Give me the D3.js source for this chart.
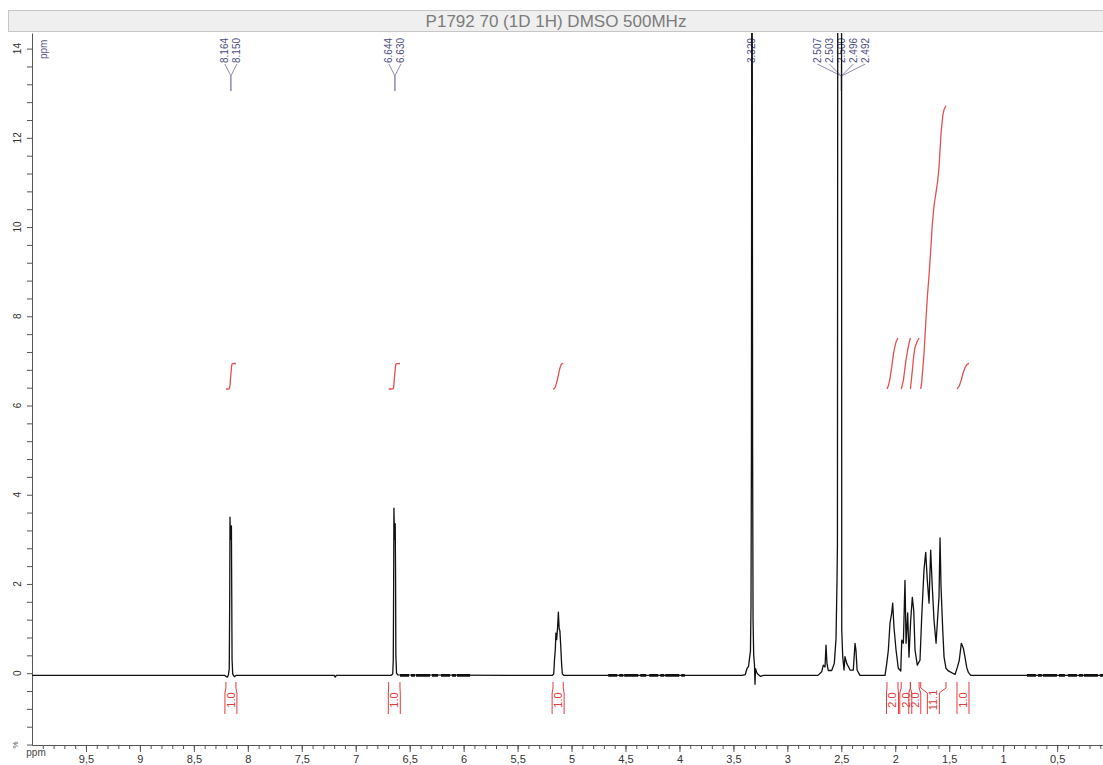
<!DOCTYPE html>
<html><head><meta charset="utf-8">
<script src="https://cdn.jsdelivr.net/npm/d3@7"></script>
<style>
body{margin:0;background:#fff;}
svg{display:block;font-family:"Liberation Sans",Arial,sans-serif;}
</style>
</head><body>
<svg id="chart" width="1103" height="765"></svg>
<script>
// ---------------- data ----------------
const titleText = "P1792 70 (1D 1H) DMSO 500MHz";
const xTickLabels = [9.5, 9, 8.5, 8, 7.5, 7, 6.5, 6, 5.5, 5, 4.5, 4, 3.5, 3, 2.5, 2, 1.5, 1, 0.5];
const yTickLabels = [0, 2, 4, 6, 8, 10, 12, 14];

// spectrum vertices [ppm, intensity]
const spectrumAromatic = [
  [10.0,-0.05],[8.215,-0.05],[8.19,-0.09],[8.18,-0.04],[8.172,0.1],[8.168,1.6],[8.165,3.5],[8.162,3.0],
  [8.157,3.2],[8.152,3.3],[8.149,1.8],[8.146,0.3],[8.140,-0.02],[8.125,-0.08],[8.11,-0.05],
  [7.20,-0.05],[7.19,-0.09],[7.18,-0.05],
  [6.675,-0.05],[6.657,-0.02],[6.652,0.3],[6.649,1.8],[6.646,3.7],[6.643,3.3],[6.639,3.0],
  [6.634,3.35],[6.631,2.3],[6.628,0.4],[6.622,0.0],[6.61,-0.04]
];
const spectrumMid = [
  [5.18,-0.05],[5.165,-0.02],[5.158,0.3],[5.150,0.55],[5.145,0.9],[5.138,0.75],[5.130,1.0],
  [5.122,1.37],[5.115,1.0],[5.108,0.95],[5.100,0.6],[5.092,0.2],[5.085,-0.02],[5.07,-0.05],
  [3.42,-0.05],[3.39,-0.03],[3.375,0.1],[3.36,0.15],[3.35,0.35],[3.342,0.5],[3.337,1.5],[3.333,5],
  [3.330,15.5],[3.326,15.5],[3.322,5],[3.318,1.2],[3.312,0.4],[3.305,0.2],[3.300,-0.25],[3.295,0.1],
  [3.285,0.02],[3.27,-0.03],[3.25,-0.07],[3.22,-0.05],
  [2.716,-0.05],[2.682,0.03],[2.667,0.18],[2.651,0.14],[2.642,0.63],[2.633,0.22],[2.621,0.06],
  [2.589,0.06],[2.565,0.22],[2.549,0.78],[2.540,2.05],[2.536,2.9],[2.533,15.5],[2.498,15.5],
  [2.496,0.96],[2.487,0.37],[2.475,0.07],[2.466,0.37],[2.450,0.22],[2.435,0.15],[2.419,0.07],
  [2.389,0.07],[2.373,0.67],[2.364,0.5],[2.354,0.07],[2.327,-0.05]
];
const spectrumAliphatic = [
  [2.095,-0.05],[2.079,0.22],[2.064,0.52],[2.049,1.12],[2.033,1.35],[2.024,1.57],[2.012,1.03],
  [1.993,0.52],[1.972,0.11],[1.949,0.05],[1.940,0.74],[1.925,0.67],[1.910,2.08],[1.900,0.67],
  [1.885,1.35],[1.873,0.36],[1.857,1.19],[1.842,1.7],[1.829,1.41],[1.817,0.52],[1.796,0.18],
  [1.771,0.29],[1.755,1.26],[1.734,2.31],[1.718,2.71],[1.703,2.08],[1.687,1.57],[1.672,2.76],
  [1.657,1.93],[1.641,1.19],[1.622,0.67],[1.607,1.26],[1.595,1.7],[1.585,3.03],[1.576,1.93],
  [1.560,0.96],[1.548,0.36],[1.530,0.11],[1.508,0.05],[1.446,-0.03],[1.425,0.13],[1.407,0.29],
  [1.388,0.67],[1.369,0.56],[1.354,0.36],[1.338,0.13],[1.323,0.02],[1.30,-0.05],[0.075,-0.05]
];
const noiseRanges = [[6.59, 5.94], [4.66, 3.95], [0.78, 0.075]];

// peak picking labels
const peakGroups = [[8.164, 8.150], [6.644, 6.630], [3.329], [2.507, 2.503, 2.500, 2.496, 2.492]];

// integrals
const integralFrom = [8.203, 6.695, 5.172, 2.077, 1.945, 1.860, 1.764, 1.428];
const integralTo   = [8.110, 6.590, 5.077, 1.975, 1.860, 1.779, 1.530, 1.317];
const integralLabels = ["1.0", "1.0", "1.0", "2.0", "2.0", "2.0", "11.1", "1.0"];

// ---------------- drawing ----------------
const spectrum = spectrumAromatic.concat(spectrumMid, spectrumAliphatic);
const svg = d3.select("#chart");
const plot = {left: 32, right: 1103, top: 33, bottom: 745};
const x = d3.scaleLinear().domain([10.0, 0.075]).range([plot.left, plot.right]);
const y = d3.scaleLinear().domain([-1.61, 14.35]).range([plot.bottom, plot.top]);

svg.append("defs").append("clipPath").attr("id", "clip")
  .append("rect").attr("x", plot.left).attr("y", plot.top)
  .attr("width", plot.right - plot.left).attr("height", plot.bottom - plot.top);

// title bar
svg.append("rect").attr("x", 8.5).attr("y", 10.5).attr("width", 1100).attr("height", 21)
  .attr("fill", "#efefef").attr("stroke", "#c6c6c6");
svg.append("text").attr("x", 556).attr("y", 26.5).attr("text-anchor", "middle")
  .attr("font-size", 17).attr("fill", "#7b7b7b").text(titleText);

// x axis
const minorX = d3.range(1, 100).map(i => i / 10);
const xAxisMinor = d3.axisBottom(x).tickValues(minorX).tickSize(4).tickSizeOuter(0).tickFormat("");
const xAxisMajor = d3.axisBottom(x).tickValues(xTickLabels).tickSize(7).tickSizeOuter(0)
  .tickFormat(d => String(d).replace(".", ","));
const gx1 = svg.append("g").attr("transform", `translate(0,${plot.bottom})`).call(xAxisMinor);
const gx2 = svg.append("g").attr("transform", `translate(0,${plot.bottom})`).call(xAxisMajor);
[gx1, gx2].forEach(g => {
  g.selectAll("path,line").attr("stroke", "#555");
});
gx2.selectAll("text").attr("font-size", 11).attr("fill", "#333").attr("y", 10)
  .attr("font-family", "Liberation Sans, Arial, sans-serif");

// y axis
const minorY = d3.range(-4, 36).map(i => i * 0.4);
const yAxisMinor = d3.axisLeft(y).tickValues(minorY).tickSize(5).tickSizeOuter(0).tickFormat("");
const gy = svg.append("g").attr("transform", `translate(${plot.left},0)`).call(yAxisMinor);
gy.selectAll("path,line").attr("stroke", "#555");
svg.append("g").selectAll("text").data(yTickLabels).join("text")
  .attr("transform", d => `translate(17,${y(d)}) rotate(-90)`)
  .attr("text-anchor", "middle").attr("dy", "0.35em")
  .attr("font-size", 10).attr("fill", "#333").text(d => d);

// corner labels
svg.append("text").attr("transform", `translate(15,${plot.bottom}) rotate(-90)`)
  .attr("text-anchor", "middle").attr("dy", "0.35em").attr("font-size", 8).attr("fill", "#555").text("%");
svg.append("text").attr("x", 36).attr("y", 756).attr("text-anchor", "middle")
  .attr("font-size", 10).attr("fill", "#444").text("ppm");
svg.append("text").attr("transform", `translate(43,59) rotate(-90)`)
  .attr("dy", "0.35em").attr("font-size", 10).attr("fill", "#56568a").text("ppm");

// peak labels
const labelG = svg.append("g");
const spacing = 12;
peakGroups.forEach(grp => {
  const cx = x(d3.mean(grp));
  const n = grp.length;
  grp.forEach((p, i) => {
    const lx = cx + (i - (n - 1) / 2) * spacing;
    labelG.append("text").attr("transform", `translate(${lx},63) rotate(-90)`)
      .attr("dy", "0.35em").attr("font-size", 10).attr("fill", "#4e4e82").text(p.toFixed(3));
    if (n > 1) {
      labelG.append("path").attr("d", `M${lx},64 L${cx},76`).attr("stroke", "#8c8cb4").attr("fill", "none");
    }
  });
  labelG.append("path").attr("d", n > 1 ? `M${cx},76 L${cx},91` : `M${cx},64 L${cx},91`)
    .attr("stroke", "#8c8cb4").attr("stroke-width", 1.5).attr("fill", "none");
});

// integrals
const baseLevel = -0.05, intBase = 6.37, perH = 0.572;
const valueAt = p => {
  for (let i = 0; i < spectrum.length - 1; i++) {
    const a = spectrum[i], b = spectrum[i + 1];
    if (p <= a[0] && p >= b[0]) {
      const t = (a[0] - p) / (a[0] - b[0] || 1);
      return a[1] + t * (b[1] - a[1]);
    }
  }
  return baseLevel;
};
const intG = svg.append("g");
integralFrom.forEach((f, k) => {
  const t = integralTo[k];
  const pts = [[f, valueAt(f)]].concat(spectrum.filter(d => d[0] < f && d[0] > t), [[t, valueAt(t)]]);
  const cum = [0];
  for (let i = 1; i < pts.length; i++) {
    const h = Math.max(0, pts[i - 1][1] - baseLevel) + Math.max(0, pts[i][1] - baseLevel);
    cum.push(cum[i - 1] + h / 2 * (pts[i - 1][0] - pts[i][0]));
  }
  const total = cum[cum.length - 1] || 1;
  const val = parseFloat(integralLabels[k]);
  const curve = pts.map((d, i) => [d[0], intBase + cum[i] / total * val * perH]);
  intG.append("path").datum(curve)
    .attr("d", d3.line().x(d => x(d[0])).y(d => y(d[1])))
    .attr("fill", "none").attr("stroke", "#e4504f").attr("stroke-width", 1.3);

  // bracket + label
  const xa = x(f), xb = x(t), cx = (xa + xb) / 2, half = 6;
  intG.append("path")
    .attr("d", `M${xa},682 L${xa},688 L${cx - half},693 L${cx - half},714 M${xb},682 L${xb},688 L${cx + half},693 L${cx + half},714`)
    .attr("fill", "none").attr("stroke", "#e43c3c").attr("stroke-width", 1);
  intG.append("text").attr("transform", `translate(${cx},700) rotate(-90)`)
    .attr("text-anchor", "middle").attr("dy", "0.35em").attr("font-size", 11)
    .attr("fill", "#e43c3c").text(integralLabels[k]);
});

// spectrum
const specG = svg.append("g").attr("clip-path", "url(#clip)");
specG.selectAll("line.noise").data(noiseRanges).join("line").attr("class", "noise")
  .attr("x1", d => x(d[0])).attr("x2", d => x(d[1]))
  .attr("y1", y(baseLevel)).attr("y2", y(baseLevel))
  .attr("stroke", "#111").attr("stroke-width", 2.6).attr("stroke-dasharray", "9,2,4,1,14,2,6,3");
specG.append("path").datum(spectrum)
  .attr("d", d3.line().x(d => x(d[0])).y(d => y(d[1])))
  .attr("fill", "none").attr("stroke", "#111").attr("stroke-width", 1.3).attr("stroke-linejoin", "round");
</script>
</body></html>
